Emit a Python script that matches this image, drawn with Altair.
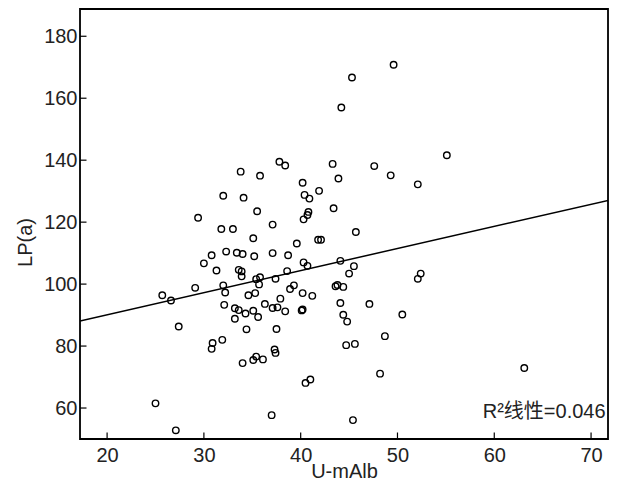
import altair as alt
import pandas as pd

# U-mAlb (x) and LP(a) (y) values
u_malb = [49.6, 45.3, 44.2, 55.1, 37.8, 38.4, 43.3, 47.6, 33.8, 35.8,
          49.3, 43.9, 40.2, 52.1, 41.9, 40.4, 40.9, 32.0, 34.1, 43.4,
          35.5, 40.8, 40.7, 40.3, 29.4, 31.8, 33.0, 37.1, 45.7, 35.1,
          41.8, 42.1, 39.6, 30.8, 32.3, 33.4, 34.0, 35.2, 37.1, 38.7,
          30.0, 31.3, 33.6, 33.9, 33.9, 35.4, 35.8, 35.7, 37.4, 38.6,
          40.3, 40.7, 44.1, 45.5, 45.0, 43.6, 43.8, 44.4, 39.3, 38.9,
          40.2, 41.2, 37.9, 32.0, 29.1, 32.2, 34.6, 35.3, 25.7, 26.6,
          52.1, 52.4, 32.1, 33.2, 33.6, 34.3, 35.1, 35.6, 36.3, 37.1,
          37.6, 38.4, 40.1, 40.2, 33.2, 34.4, 37.5, 27.4, 44.1, 47.1,
          50.5, 44.4, 44.8, 48.7, 44.7, 45.6, 30.9, 30.8, 31.9, 37.3,
          37.4, 34.0, 35.1, 35.4, 36.1, 40.5, 41.0, 48.2, 63.1, 25.0,
          27.1, 37.0, 45.4]
lp_a = [170.8, 166.7, 157.0, 141.6, 139.5, 138.3, 138.8, 138.1, 136.3, 135.0,
        135.1, 134.1, 132.7, 132.2, 130.1, 128.8, 127.6, 128.5, 127.9, 124.5,
        123.5, 123.3, 122.3, 120.9, 121.4, 117.8, 117.8, 119.2, 116.8, 114.8,
        114.3, 114.3, 113.1, 109.3, 110.5, 110.1, 109.7, 109.0, 110.0, 109.3,
        106.7, 104.4, 104.6, 104.1, 102.5, 101.6, 102.2, 99.9, 101.7, 104.2,
        107.0, 105.9, 107.5, 105.8, 103.4, 99.3, 99.7, 99.1, 99.6, 98.4,
        97.1, 96.2, 95.3, 99.6, 98.8, 97.3, 96.4, 97.1, 96.4, 94.7,
        101.7, 103.4, 93.3, 92.2, 91.6, 90.5, 91.4, 89.4, 93.6, 92.3,
        92.5, 91.2, 91.5, 91.8, 88.8, 85.4, 85.5, 86.3, 93.9, 93.6,
        90.2, 90.1, 87.9, 83.2, 80.3, 80.7, 81.0, 79.1, 82.0, 78.9,
        77.8, 74.5, 75.5, 76.6, 75.7, 68.1, 69.2, 71.1, 72.9, 61.5,
        52.8, 57.7, 56.1]

# Linear fit line end points (drawn across the plot, clipped to the frame)
fit_x = [17.2, 72.6]
fit_y = [88.1, 127.6]

x_ticks = [20, 30, 40, 50, 60, 70]
y_ticks = [60, 80, 100, 120, 140, 160, 180]

x_domain = [17.2, 71.75]
y_domain = [50, 188.8]

r2_label = ["R²线性=0.046"]
r2_pos_x = [71.5]
r2_pos_y = [56.9]

FONT = "Liberation Sans, Arial, Noto Sans CJK SC"
TXT = "#222222"

W = 528
H = 430

pts = pd.DataFrame({"x": u_malb, "y": lp_a})
fit = pd.DataFrame({"x": fit_x, "y": fit_y})
xt = pd.DataFrame({"t": x_ticks})
yt = pd.DataFrame({"t": y_ticks})
ann = pd.DataFrame({"label": r2_label, "x": r2_pos_x, "y": r2_pos_y})
frame_df = pd.DataFrame({"k": [0]})

xscale = alt.Scale(domain=x_domain, nice=False, zero=False)
yscale = alt.Scale(domain=y_domain, nice=False, zero=False)

xaxis = alt.Axis(values=x_ticks, grid=False, ticks=False, tickSize=0, domain=False,
                 labelFont=FONT, labelFontSize=20, labelColor=TXT, labelPadding=6,
                 title="U-mAlb", titleFont=FONT, titleFontSize=20, titleColor=TXT,
                 titleFontWeight="normal", titleBaseline="alphabetic", titleY=38)
yaxis = alt.Axis(values=y_ticks, grid=False, ticks=False, tickSize=0, domain=False,
                 labelFont=FONT, labelFontSize=20, labelColor=TXT, labelPadding=3,
                 title="LP(a)", titleFont=FONT, titleFontSize=20, titleColor=TXT,
                 titleFontWeight="normal", titlePadding=8, titleY=233)

points = alt.Chart(pts).mark_point(shape="circle", filled=False, color="black",
                                    size=42, strokeWidth=1.4, opacity=1).encode(
    x=alt.X("x:Q", scale=xscale, axis=xaxis),
    y=alt.Y("y:Q", scale=yscale, axis=yaxis),
)

line = alt.Chart(fit).mark_line(color="black", strokeWidth=1.5, clip=True).encode(
    x=alt.X("x:Q", scale=xscale),
    y=alt.Y("y:Q", scale=yscale),
)

xtick_marks = alt.Chart(xt).mark_rule(color="black", strokeWidth=1.2).encode(
    x=alt.X("t:Q", scale=xscale),
    y=alt.value(H),
    y2=alt.value(H - 6.5),
)
ytick_marks = alt.Chart(yt).mark_rule(color="black", strokeWidth=1.2).encode(
    y=alt.Y("t:Q", scale=yscale),
    x=alt.value(0),
    x2=alt.value(6.5),
)

frame = alt.Chart(frame_df).mark_rect(fill=None, fillOpacity=0, stroke="black",
                                       strokeWidth=1.8).encode(
    x=alt.value(0), x2=alt.value(W), y=alt.value(0), y2=alt.value(H),
)

text = alt.Chart(ann).mark_text(align="right", baseline="alphabetic", font=FONT,
                                 fontSize=20, color=TXT).encode(
    x=alt.X("x:Q", scale=xscale),
    y=alt.Y("y:Q", scale=yscale),
    text="label:N",
)

chart = alt.layer(line, points, xtick_marks, ytick_marks, frame, text).properties(
    width=W, height=H,
    autosize=alt.AutoSizeParams(type="none"),
    padding={"left": 72, "top": 1, "right": 1, "bottom": 43},
).configure_view(stroke=None).configure(background="white")

chart.save("out.html", embed_options={"renderer": "svg", "actions": False})
